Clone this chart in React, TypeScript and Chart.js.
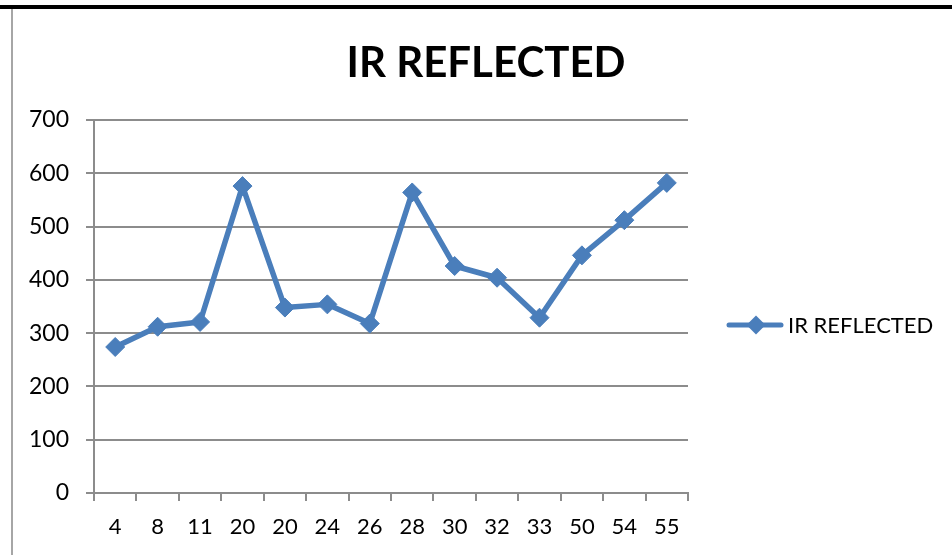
import React, { useEffect, useRef } from "react";
import { Chart, registerables } from "chart.js";

Chart.register(...registerables);

const categories = ["4", "8", "11", "20", "20", "24", "26", "28", "30", "32", "33", "50", "54", "55"];
const irReflected = [274, 312, 321, 576, 348, 354, 318, 564, 426, 404, 329, 446, 512, 582];
const seriesName = "IR REFLECTED";
const chartTitle = "IR REFLECTED";
const yMin = 0;
const yMax = 700;
const yStep = 100;

const BLUE = "#4A7EBB";
const GRID = "#8c8c8c";
const FONT = "Lato, 'Open Sans', sans-serif";

const overlayPlugin = {
  id: "overlay",
  afterDraw(chart: any) {
    const ctx = chart.ctx;
    ctx.save();
    // title
    ctx.fillStyle = "#000";
    ctx.font = `bold 42px ${FONT}`;
    ctx.textAlign = "center";
    ctx.textBaseline = "alphabetic";
    ctx.fillText(chartTitle, 486, 76.5);
    // legend
    const ly = 325;
    ctx.strokeStyle = BLUE;
    ctx.lineWidth = 5;
    ctx.lineCap = "round";
    ctx.beginPath();
    ctx.moveTo(729, ly);
    ctx.lineTo(781, ly);
    ctx.stroke();
    ctx.fillStyle = BLUE;
    ctx.beginPath();
    const cx = 756, r = 9.5;
    ctx.moveTo(cx - r, ly);
    ctx.lineTo(cx, ly - r);
    ctx.lineTo(cx + r, ly);
    ctx.lineTo(cx, ly + r);
    ctx.closePath();
    ctx.fill();
    ctx.fillStyle = "#000";
    ctx.font = `22px ${FONT}`;
    ctx.textAlign = "left";
    ctx.fillText(seriesName, 788, 333.3);
    ctx.restore();
  },
};

export default function App() {
  const ref = useRef<HTMLCanvasElement>(null);
  useEffect(() => {
    if (!ref.current) return;
    const chart = new Chart(ref.current, {
      type: "line",
      data: {
        labels: categories,
        datasets: [
          {
            label: seriesName,
            data: irReflected,
            borderColor: BLUE,
            backgroundColor: BLUE,
            borderWidth: 5.5,
            borderJoinStyle: "round",
            borderCapStyle: "round",
            tension: 0,
            pointStyle: "rectRot",
            pointRadius: 9.5,
            pointBackgroundColor: BLUE,
            pointBorderColor: BLUE,
            pointBorderWidth: 1,
          },
        ],
      },
      options: {
        animation: false,
        responsive: false,
        layout: { padding: { top: 120, right: 264, left: 0, bottom: 0 } },
        plugins: {
          legend: { display: false },
          title: { display: false },
          tooltip: { enabled: false },
        },
        scales: {
          x: {
            type: "category",
            offset: true,
            grid: {
              display: true,
              drawOnChartArea: false,
              drawTicks: true,
              tickLength: 8,
              offset: true,
              color: GRID,
              lineWidth: 2,
            },
            border: { display: true, color: GRID, width: 2 },
            ticks: {
              color: "#000",
              font: { family: FONT, size: 22 },
              padding: 13,
              maxRotation: 0,
              autoSkip: false,
            },
            afterFit: (s: any) => {
              s.height = 62;
            },
          },
          y: {
            min: yMin,
            max: yMax,
            grid: { color: GRID, lineWidth: 2, tickLength: 8 },
            border: { display: true, color: GRID, width: 2 },
            ticks: {
              stepSize: yStep,
              color: "#000",
              font: { family: FONT, size: 23 },
              padding: 17,
            },
            afterFit: (s: any) => {
              s.width = 94;
            },
          },
        },
      },
      plugins: [overlayPlugin],
    });
    return () => chart.destroy();
  }, []);

  return (
    <div style={{ position: "absolute", left: 0, top: 0, width: 952, height: 555, background: "#fff", overflow: "hidden" }}>
      <canvas ref={ref} width={952} height={555} style={{ position: "absolute", left: 0, top: 0 }} />
      <div style={{ position: "absolute", left: 0, top: 5, width: 952, height: 4, background: "#000" }} />
      <div style={{ position: "absolute", left: 11, top: 9, width: 2, height: 546, background: "#a6a6a6" }} />
    </div>
  );
}
